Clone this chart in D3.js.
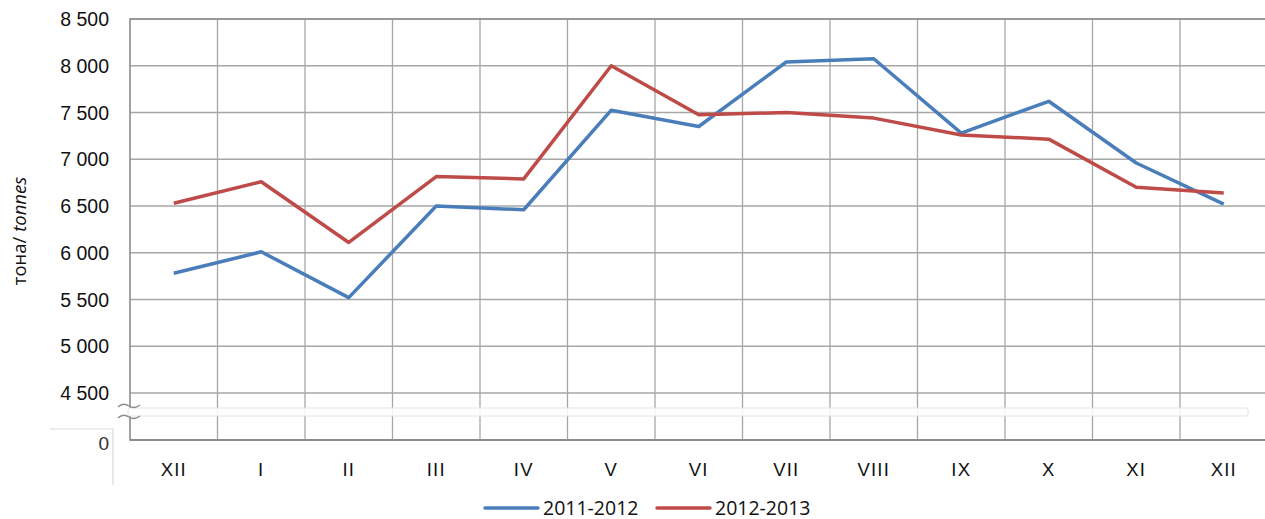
<!DOCTYPE html>
<html>
<head>
<meta charset="utf-8">
<script src="https://cdn.jsdelivr.net/npm/d3@7"></script>
<style>
  body { margin: 0; background: #fff; }
  svg { display: block; font-family: "Liberation Sans", Arial, sans-serif; }
</style>
</head>
<body>
<div id="chart"></div>
<script>
const months = ['XII', 'I', 'II', 'III', 'IV', 'V', 'VI', 'VII', 'VIII', 'IX', 'X', 'XI', 'XII'];
const series2011 = [5780, 6010, 5520, 6500, 6460, 7525, 7350, 8040, 8075, 7280, 7620, 6960, 6520];
const series2012 = [6530, 6760, 6110, 6815, 6790, 8000, 7475, 7500, 7440, 7260, 7215, 6700, 6640];
const yTicks = [4500, 5000, 5500, 6000, 6500, 7000, 7500, 8000, 8500];
const seriesNames = ['2011-2012', '2012-2013'];
const seriesColors = ['#4a7ebb', '#be4b48'];

const W = 1265, H = 519;
const plotLeft = 130, plotRight = 1267.5, plotTop = 19, plotBottom = 440;
const breakY = 393; // 4500 line

const svg = d3.select('#chart').append('svg')
  .attr('width', W)
  .attr('height', H);

const x = d3.scaleBand().domain(d3.range(months.length)).range([plotLeft, plotRight]);
const y = d3.scaleLinear().domain([4500, 8500]).range([breakY, plotTop]);

// horizontal grid
svg.append('g')
  .selectAll('line')
  .data(yTicks)
  .join('line')
  .attr('x1', plotLeft).attr('x2', W)
  .attr('y1', d => y(d)).attr('y2', d => y(d))
  .attr('stroke', '#a6a6a6')
  .attr('stroke-width', 1.3);

// vertical grid at band boundaries
svg.append('g')
  .selectAll('line')
  .data(d3.range(1, months.length))
  .join('line')
  .attr('x1', d => x(d)).attr('x2', d => x(d))
  .attr('y1', plotTop).attr('y2', plotBottom)
  .attr('stroke', '#a6a6a6')
  .attr('stroke-width', 1.3);

// y tick labels
svg.append('g')
  .selectAll('text')
  .data(yTicks)
  .join('text')
  .attr('x', 109)
  .attr('y', d => y(d) + 7)
  .attr('text-anchor', 'end')
  .attr('font-size', 19.5)
  .attr('fill', '#111')
  .text(d => d3.format(',')(d).replace(',', ' '));

// zero label and small box
svg.append('text')
  .attr('x', 109).attr('y', plotBottom + 10)
  .attr('text-anchor', 'end')
  .attr('font-size', 19)
  .attr('fill', '#333')
  .text('0');
svg.append('path')
  .attr('d', `M50,429H113V485`)
  .attr('fill', 'none')
  .attr('stroke', '#dcdcdc')
  .attr('stroke-width', 1.2);

// axis frame
svg.append('path')
  .attr('d', `M${W},${plotTop}H${plotLeft}V${plotBottom}H${W}`)
  .attr('fill', 'none')
  .attr('stroke', '#8c8c8c')
  .attr('stroke-width', 1.6);
svg.append('line')
  .attr('x1', plotLeft).attr('x2', W)
  .attr('y1', plotBottom).attr('y2', plotBottom)
  .attr('stroke', '#8c8c8c')
  .attr('stroke-width', 2.2);

// axis break band
svg.append('rect')
  .attr('x', plotLeft - 2).attr('y', 408)
  .attr('width', 1250 - plotLeft).attr('height', 8)
  .attr('rx', 2)
  .attr('fill', '#fff')
  .attr('fill-opacity', 0.85)
  .attr('stroke', '#e4e4e4')
  .attr('stroke-width', 1);
svg.append('rect')
  .attr('x', plotLeft - 1).attr('y', 408.5)
  .attr('width', 3).attr('height', 7)
  .attr('fill', '#fff');
[406, 417].forEach(yy => {
  svg.append('path')
    .attr('d', `M118,${yy + 1} C122,${yy - 3} 126,${yy - 2} 129,${yy} S136,${yy + 2} 140,${yy - 1}`)
    .attr('fill', 'none')
    .attr('stroke', '#8c8c8c')
    .attr('stroke-width', 1.4);
});

// x labels
svg.append('g')
  .selectAll('text')
  .data(months)
  .join('text')
  .attr('x', (d, i) => x(i) + x.bandwidth() / 2)
  .attr('y', 476)
  .attr('text-anchor', 'middle')
  .attr('font-size', 18.5)
  .attr('letter-spacing', 1.2)
  .attr('fill', '#111')
  .text(d => d);

// y axis title
const yTitle = svg.append('text')
  .attr('transform', 'translate(26,231) rotate(-90)')
  .attr('text-anchor', 'middle')
  .attr('font-family', '"Open Sans", "Noto Sans", sans-serif')
  .attr('font-size', 18.5)
  .attr('fill', '#111');
yTitle.append('tspan').text('тона/ ');
yTitle.append('tspan').attr('font-style', 'italic').text('tonnes');

// lines
const line = d3.line()
  .x((d, i) => x(i) + x.bandwidth() / 2)
  .y(d => y(d));

[series2011, series2012].forEach((s, k) => {
  svg.append('path')
    .datum(s)
    .attr('fill', 'none')
    .attr('stroke', seriesColors[k])
    .attr('stroke-width', 3.5)
    .attr('stroke-linejoin', 'round')
    .attr('d', line);
});

// legend
const legendX = [485, 657];
const legend = svg.append('g');
seriesNames.forEach((name, k) => {
  legend.append('line')
    .attr('x1', legendX[k]).attr('x2', legendX[k] + 53)
    .attr('y1', 508).attr('y2', 508)
    .attr('stroke', seriesColors[k])
    .attr('stroke-width', 3.5)
    .attr('stroke-linecap', 'round');
  legend.append('text')
    .attr('x', legendX[k] + 58)
    .attr('y', 514.5)
    .attr('font-family', '"Open Sans", "Noto Sans", sans-serif')
    .attr('font-size', 19.5)
    .attr('fill', '#111')
    .text(name);
});
</script>
</body>
</html>
